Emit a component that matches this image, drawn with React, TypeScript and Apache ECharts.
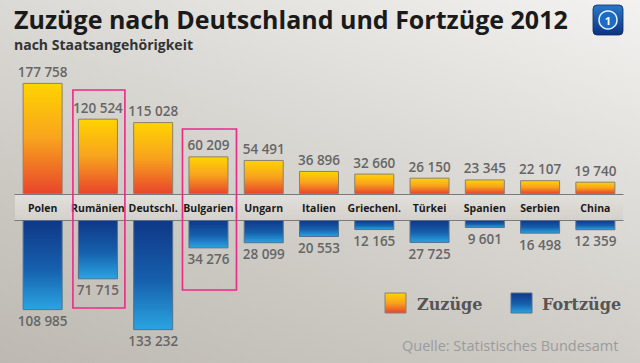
import React, { useEffect, useRef } from "react";
import * as echarts from "echarts";

const categories = ["Polen", "Rumänien", "Deutschl.", "Bulgarien", "Ungarn", "Italien", "Griechenl.", "Türkei", "Spanien", "Serbien", "China"];
const zuzuege = [177758, 120524, 115028, 60209, 54491, 36896, 32660, 26150, 23345, 22107, 19740];
const fortzuege = [108985, 71715, 133232, 34276, 28099, 20553, 12165, 27725, 9601, 16498, 12359];
const seriesNames = ["Zuzüge", "Fortzüge"];
const highlighted = ["Rumänien", "Bulgarien"];

const fmt = (v: number) => String(v).replace(/\B(?=(\d{3})+(?!\d))/g, " ");

export default function App() {
  const ref = useRef<HTMLDivElement>(null);
  useEffect(() => {
    if (!ref.current) return;
    const chart = echarts.init(ref.current, null, { renderer: "svg" });
    const yellow = () =>
      new echarts.graphic.LinearGradient(0, 0, 0, 1, [
        { offset: 0, color: "#ffd400" },
        { offset: 0.5, color: "#f8a31e" },
        { offset: 1, color: "#e8452b" },
      ]);
    const blue = () =>
      new echarts.graphic.LinearGradient(0, 0, 0, 1, [
        { offset: 0, color: "#0f3787" },
        { offset: 0.55, color: "#1660ad" },
        { offset: 1, color: "#2aa4e2" },
      ]);
    const labelStyle = {
      show: true,
      formatter: (p: any) => fmt(p.value),
      fontFamily: "Open Sans",
      fontWeight: 600,
      fontSize: 13.5,
      color: "#666666",
      distance: 4,
    };
    chart.setOption({
      animation: false,
      backgroundColor: "transparent",
      title: {
        text: "Zuzüge nach Deutschland und Fortzüge 2012",
        subtext: "nach Staatsangehörigkeit",
        left: 9,
        top: 1,
        itemGap: 6,
        textStyle: { fontFamily: "Open Sans", fontWeight: "bold", fontSize: 25, color: "#1a1a1a" },
        subtextStyle: { fontFamily: "Open Sans", fontWeight: "bold", fontSize: 14, color: "#333" },
      },
      grid: [
        { left: 15, right: 17, top: 69, bottom: 169 },
        { left: 15, right: 17, top: 220, bottom: 19 },
      ],
      xAxis: [
        {
          type: "category",
          gridIndex: 0,
          data: categories,
          axisTick: { show: false },
          axisLine: { lineStyle: { color: "#7a7a7a", width: 1.2 } },
          axisLabel: { margin: 8, fontFamily: "Open Sans", fontWeight: "bold", fontSize: 10.5, color: "#1a1a1a", interval: 0 },
        },
        {
          type: "category",
          gridIndex: 1,
          data: categories,
          position: "top",
          axisTick: { show: false },
          axisLine: { lineStyle: { color: "#7a7a7a", width: 1.2 } },
          axisLabel: { show: false },
        },
      ],
      yAxis: [
        { type: "value", gridIndex: 0, min: 0, max: 200000, show: false },
        { type: "value", gridIndex: 1, min: 0, max: 150000, inverse: true, show: false },
      ],
      series: [
        {
          name: seriesNames[0],
          type: "bar",
          xAxisIndex: 0,
          yAxisIndex: 0,
          data: zuzuege,
          barWidth: 40,
          itemStyle: { color: yellow(), borderColor: "#8c8070", borderWidth: 1 },
          label: { ...labelStyle, position: "top" },
        },
        {
          name: seriesNames[1],
          type: "bar",
          xAxisIndex: 1,
          yAxisIndex: 1,
          data: fortzuege,
          barWidth: 40,
          itemStyle: { color: blue(), borderColor: "#55708c", borderWidth: 1 },
          label: { ...labelStyle, position: "bottom" },
        },
      ],
    });

    const boxes: any[] = [];
    const boxY: Record<string, [number, number, number, number]> = {
      "Rumänien": [90, 308, -25, 27],
      "Bulgarien": [129, 290, -26, 28],
    };
    highlighted.forEach((c) => {
      const cx = chart.convertToPixel({ xAxisIndex: 0 }, c) as number;
      const [t, b, l, r] = boxY[c];
      boxes.push({
        type: "rect",
        z: 20,
        shape: { x: cx + l, y: t, width: r - l, height: b - t },
        style: { fill: "none", stroke: "#ec2a86", lineWidth: 1.6 },
      });
    });

    const legendText = {
      fill: "#555",
      fontFamily: "DejaVu Serif",
      fontWeight: "bold",
      fontSize: 16,
      verticalAlign: "middle",
    };

    chart.setOption({
      graphic: [
        {
          type: "rect",
          z: -10,
          shape: { x: 15, y: 194, width: 608, height: 26 },
          style: {
            fill: new echarts.graphic.LinearGradient(0, 0, 0, 1, [
              { offset: 0, color: "#e2e0dc" },
              { offset: 1, color: "#d4d1cc" },
            ]),
          },
        },
        ...boxes,
        {
          type: "rect",
          z: 20,
          shape: { x: 385, y: 293, width: 21, height: 20 },
          style: { fill: yellow(), stroke: "#8c8070", lineWidth: 1 },
        },
        { type: "text", z: 20, x: 417, y: 304, style: { ...legendText, text: seriesNames[0] } },
        {
          type: "rect",
          z: 20,
          shape: { x: 511, y: 293, width: 21, height: 20 },
          style: { fill: blue(), stroke: "#55708c", lineWidth: 1 },
        },
        { type: "text", z: 20, x: 542, y: 304, style: { ...legendText, text: seriesNames[1] } },
        {
          type: "rect",
          z: 20,
          shape: { x: 593, y: 5, width: 30, height: 30, r: 4 },
          style: {
            fill: new echarts.graphic.LinearGradient(0, 0, 0, 1, [
              { offset: 0, color: "#2a78c8" },
              { offset: 1, color: "#0b3282" },
            ]),
            stroke: "#0a2a66",
            lineWidth: 0.8,
          },
        },
        {
          type: "circle",
          z: 21,
          shape: { cx: 608, cy: 20, r: 9 },
          style: { fill: "#1c6cc4", stroke: "#e8f2ff", lineWidth: 1.5 },
        },
        {
          type: "text",
          z: 22,
          x: 608,
          y: 20,
          style: { text: "1", fill: "#ffffff", fontFamily: "Open Sans", fontWeight: "bold", fontSize: 11, align: "center", verticalAlign: "middle" },
        },
        {
          type: "text",
          z: 20,
          x: 402,
          y: 345,
          style: { text: "Quelle: Statistisches Bundesamt", fill: "#9b9b9b", fontFamily: "Open Sans", fontSize: 14.5, verticalAlign: "middle" },
        },
      ],
    });
    return () => chart.dispose();
  }, []);
  return (
    <div
      ref={ref}
      style={{
        position: "fixed",
        left: 0,
        top: 0,
        width: 640,
        height: 363,
        background: "linear-gradient(200deg, #f3f2f0 0%, #dedcd8 35%, #cbc8c2 70%, #bdb9b2 100%)",
      }}
    />
  );
}
